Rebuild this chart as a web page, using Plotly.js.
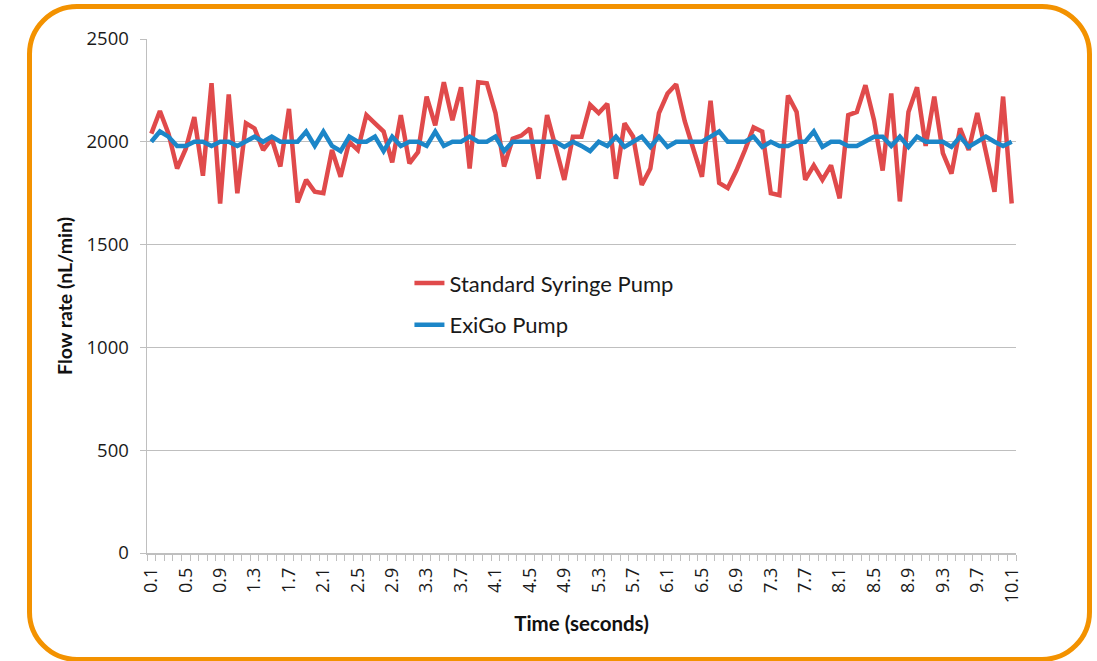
<!DOCTYPE html>
<html>
<head>
<meta charset="utf-8">
<script src="https://cdn.plot.ly/plotly-3.0.1.min.js"></script>
<style>
html, body { margin: 0; padding: 0; background: #ffffff; }
#frame { position: absolute; left: 27px; top: 4px; width: 1065px; height: 658px; box-sizing: border-box; border: 5px solid #F39200; border-radius: 50px; pointer-events: none; }
#chart { position: absolute; left: 0; top: 0; width: 1097px; height: 661px; }
</style>
</head>
<body>
<div id="chart"></div>
<div id="frame"></div>
<script>
const times = [0.1,0.2,0.3,0.4,0.5,0.6,0.7,0.8,0.9,1.0,
  1.1,1.2,1.3,1.4,1.5,1.6,1.7,1.8,1.9,2.0,
  2.1,2.2,2.3,2.4,2.5,2.6,2.7,2.8,2.9,3.0,
  3.1,3.2,3.3,3.4,3.5,3.6,3.7,3.8,3.9,4.0,
  4.1,4.2,4.3,4.4,4.5,4.6,4.7,4.8,4.9,5.0,
  5.1,5.2,5.3,5.4,5.5,5.6,5.7,5.8,5.9,6.0,
  6.1,6.2,6.3,6.4,6.5,6.6,6.7,6.8,6.9,7.0,
  7.1,7.2,7.3,7.4,7.5,7.6,7.7,7.8,7.9,8.0,
  8.1,8.2,8.3,8.4,8.5,8.6,8.7,8.8,8.9,9.0,
  9.1,9.2,9.3,9.4,9.5,9.6,9.7,9.8,9.9,10.0,10.1];

const standardPump = [2040,2150,2040,1870,1965,2120,1835,2285,1700,2230,
  1750,2090,2065,1960,2015,1880,2160,1705,1815,1757,
  1750,1960,1830,2000,1960,2130,2090,2050,1900,2130,
  1895,1950,2220,2080,2290,2105,2265,1870,2290,2285,
  2140,1880,2015,2030,2065,1820,2130,1980,1815,2025,
  2025,2180,2140,2185,1820,2090,2025,1790,1870,2140,
  2235,2280,2100,1965,1830,2200,1800,1775,1860,1960,
  2070,2050,1750,1740,2225,2145,1815,1885,1815,1885,
  1725,2130,2145,2275,2105,1860,2235,1710,2145,2265,
  1980,2220,1945,1845,2065,1960,2140,1950,1757,2220,1700];

const exigoPump = [2000,2050,2025,1980,1980,2000,2000,1980,2000,2000,
  1980,2000,2025,2000,2025,2000,2000,2000,2050,1980,
  2050,1980,1955,2025,2000,2000,2025,1955,2025,1980,
  2000,2000,1980,2050,1980,2000,2000,2025,2000,2000,
  2025,1955,2000,2000,2000,2000,2000,2000,1975,2000,
  1980,1955,2000,1980,2025,1975,2000,2025,1975,2025,
  1975,2000,2000,2000,2000,2025,2050,2000,2000,2000,
  2025,1975,2000,1980,1980,2000,2000,2050,1975,2000,
  2000,1980,1980,2000,2025,2025,1980,2025,1975,2025,
  2000,2000,2000,1975,2025,1975,2000,2025,2000,1980,2000];

const xTickVals = [0.1,0.5,0.9,1.3,1.7,2.1,2.5,2.9,3.3,3.7,4.1,4.5,4.9,5.3,5.7,6.1,6.5,6.9,7.3,7.7,8.1,8.5,8.9,9.3,9.7,10.1];
const xTickText = ["0.1","0.5","0.9","1.3","1.7","2.1","2.5","2.9","3.3","3.7","4.1","4.5","4.9","5.3","5.7","6.1","6.5","6.9","7.3","7.7","8.1","8.5","8.9","9.3","9.7","10.1"];
const yTickVals = [0,500,1000,1500,2000,2500];

const traces = [
  { x: times, y: standardPump, type: 'scatter', mode: 'lines', name: 'Standard Syringe Pump',
    line: { color: '#E04A4B', width: 4.5 }, legend: 'legend' },
  { x: times, y: exigoPump, type: 'scatter', mode: 'lines', name: 'ExiGo Pump',
    line: { color: '#1C86C8', width: 4.5 }, legend: 'legend2' }
];

const legendFont = { family: 'Lato, "Open Sans", sans-serif', size: 22, color: '#1a1a1a' };

const layout = {
  width: 1097, height: 661,
  margin: { l: 147, r: 81, t: 39, b: 108 },
  paper_bgcolor: 'rgba(0,0,0,0)',
  plot_bgcolor: 'rgba(0,0,0,0)',
  showlegend: true,
  legend: { x: 0.302, y: 0.525, xanchor: 'left', yanchor: 'middle', font: legendFont, bgcolor: 'rgba(0,0,0,0)' },
  legend2: { x: 0.302, y: 0.4436, xanchor: 'left', yanchor: 'middle', font: legendFont, bgcolor: 'rgba(0,0,0,0)' },
  xaxis: {
    type: 'linear',
    range: [0.05, 10.15],
    tickvals: xTickVals, ticktext: xTickText,
    tickangle: -90,
    ticks: 'outside', ticklen: 6, tickcolor: 'rgba(0,0,0,0)',
    minor: { tick0: 0.05, dtick: 0.1, ticks: 'outside', ticklen: 6, tickcolor: '#BFBFBF', tickwidth: 1, showgrid: false },
    showgrid: false, zeroline: false,
    showline: true, linecolor: '#BFBFBF', linewidth: 1.5,
    tickfont: { family: '"Open Sans", sans-serif', size: 18, color: '#1a1a1a' },
    title: { text: 'Time (seconds)', font: { family: 'Lato, sans-serif', size: 20.5, color: '#111', weight: 'bold' }, standoff: 14 },
    fixedrange: true
  },
  yaxis: {
    range: [0, 2500],
    tickvals: yTickVals,
    ticks: 'outside', ticklen: 6, tickcolor: '#BFBFBF',
    ticklabelstandoff: 7,
    showgrid: true, gridcolor: '#BFBFBF', gridwidth: 1,
    zeroline: false,
    showline: true, linecolor: '#BFBFBF', linewidth: 1.5,
    tickfont: { family: '"Open Sans", sans-serif', size: 18.5, color: '#1a1a1a' },
    title: { text: 'Flow rate (nL/min)', font: { family: 'Lato, sans-serif', size: 19.5, color: '#111', weight: 'bold' }, standoff: 8 },
    fixedrange: true
  }
};

Plotly.newPlot('chart', traces, layout, { displayModeBar: false, staticPlot: true });
</script>
</body>
</html>
